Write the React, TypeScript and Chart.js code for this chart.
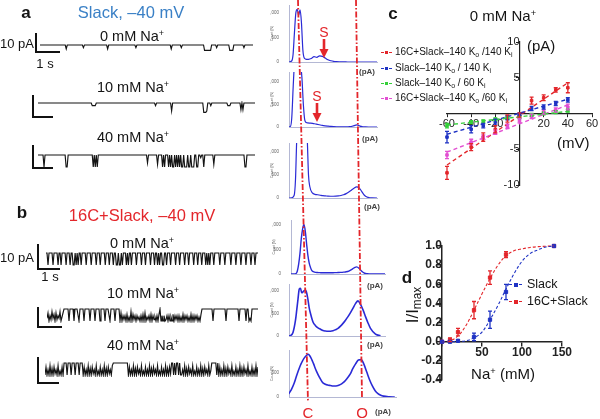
import React, { useEffect, useRef } from "react";
import { Chart, registerables } from "chart.js";

Chart.register(...registerables);

const FONT = "'Liberation Sans', Arial, Helvetica, sans-serif";

// ---------------- panel a / b : single-channel traces ----------------
// one character per sample, 0 = closed baseline, 9 = fully open level
const TRACE_SLACK_0 = [
  "0000000000", "0000000000", "0000003000", "0000000000", "0002000000",
  "0000000000", "0000000300", "0000000000", "0000000000", "0000020000",
  "0000000000", "0000000000", "0000000000", "3000000000", "2000000000",
  "0000000000", "0004444444", "0000020000", "0000000044", "4400000000",
  "0020000000", "00",
].join("");
const TRACE_SLACK_10 = [
  "0000000000", "0000000000", "0000000000", "0000000000", "0000000000",
  "0000222200", "0000000000", "0000000000", "0000000000", "0000000000",
  "0000000000", "0000000200", "0000000000", "0006000000", "0000000000",
  "0000000000", "0000077760", "0020000000", "0000000002", "2200000000",
  "0050500000", "0000000",
].join("");
const TRACE_SLACK_40 = [
  "0000009000", "0000000000", "0000000099", "0000000000", "0000000000",
  "0000090909", "0000000000", "0000000000", "0000000000", "0000000000",
  "0000000006", "0000000007", "0000909000", "9090990909", "0909909990",
  "9909990099", "0020090000", "0000070000", "0000000000", "0000000000",
  "0000009900", "0000000",
].join("");
const TRACE_16C_0 = [
  "0090000900", "0090090000", "9000900990", "9090090000", "9000090000",
  "9000900009", "0009000900", "9909909000", "9090090000", "9000090009",
  "0000900090", "0909009900", "9000900009", "0009000090", "0090000900",
  "0900090009", "0909000900", "0009000090", "0000900009", "0000900009",
  "0000900090", "00",
].join("");
const TRACE_16C_10 = [
  "739582749385729630",
  "0000900009000090000900000900009000090000900009000090000",
  "9395859496929485958695949396859495869594",
  "0959598595969495859596949585969495958596940",
  "00000000009000000000000900000000000090000009009790000000",
].join("");
const TRACE_16C_40 = [
  "9395929493859296939",
  "0009000900090009000",
  "939592949385929693959294938592",
  "000000000000000",
  "9395929493859296939592949385929693959294938",
  "0090900909",
  "959294938592969395929493859296",
  "0000090",
  "9395929493859296939592949385929693959293",
].join("");

// ---------------- histograms (pA -> counts) ----------------
const HIST_X = [-1.4, -1.2, -1.0, -0.8, -0.6, -0.5, -0.4, -0.3, -0.2, -0.1, 0, 0.1, 0.2, 0.3, 0.4, 0.5, 0.6, 0.8, 1.0, 1.2, 1.4, 1.6, 1.8, 2.0, 2.2, 2.4, 2.6, 2.8, 3.0, 3.2, 3.4, 3.6, 3.8, 4.0, 4.2, 4.4, 4.6, 4.8, 5.0, 5.2, 5.4, 5.8, 6.2];
const HIST_SLACK_0 = [0, 0, 0, 0, 20, 150, 600, 1000, 1070, 950, 1060, 800, 250, 80, 60, 55, 55, 70, 110, 95, 125, 115, 80, 45, 25, 12, 6, 3, 2, 1, 0, 0, 0, 0, 0, 0, 0, 0, 0, 0, 0, 0, 0];
const HIST_SLACK_10 = [0, 0, 0, 0, 10, 200, 900, 1500, 1700, 1600, 1500, 1400, 1100, 500, 150, 100, 90, 85, 75, 65, 50, 35, 25, 18, 12, 8, 6, 5, 5, 5, 6, 10, 30, 45, 20, 6, 2, 0, 0, 0, 0, 0, 0];
const HIST_SLACK_40 = [0, 0, 0, 5, 60, 400, 1300, 1600, 1800, 1900, 1900, 1800, 1700, 1500, 1300, 500, 250, 110, 80, 70, 60, 50, 45, 40, 38, 38, 40, 45, 55, 70, 95, 130, 170, 210, 240, 220, 140, 60, 20, 6, 2, 0, 0];
const HIST_16C_0 = [0, 0, 0, 0, 10, 60, 200, 420, 720, 920, 1010, 880, 620, 380, 220, 130, 70, 40, 30, 28, 25, 25, 25, 25, 26, 28, 30, 33, 38, 45, 60, 90, 125, 145, 110, 50, 15, 5, 2, 0, 0, 0, 0];
const HIST_16C_10 = [0, 0, 10, 80, 350, 580, 820, 1040, 1060, 960, 980, 1010, 1020, 950, 800, 620, 500, 310, 230, 180, 150, 120, 110, 105, 105, 115, 140, 170, 220, 280, 350, 430, 520, 620, 720, 780, 700, 580, 430, 290, 170, 40, 5];
const HIST_16C_40 = [60, 150, 280, 460, 620, 690, 750, 800, 840, 870, 890, 870, 820, 760, 690, 610, 540, 420, 320, 270, 250, 240, 230, 230, 245, 275, 320, 390, 470, 590, 690, 770, 780, 680, 520, 360, 230, 130, 70, 35, 18, 5, 0];
const HIST_TICKS_SHORT = [0, 2, 4];
const HIST_TICKS_LONG = [0, 2, 4, 6];
const COUNT_TICKS = [0, 500, 1000];

// ---------------- panel c : I-V ----------------
const IV_VOLTAGE = [-60, -40, -30, -20, -10, 0, 10, 20, 30, 40];
const IV_16C_140 = [-8.3, -4.7, -3.3, -2.2, -0.7, -0.2, 1.8, 2.2, 3.3, 3.6];
const IV_16C_140_ERR = [0.9, 0.5, 0.6, 0.5, 0.5, 0.3, 0.5, 0.4, 0.3, 0.7];
const IV_SLACK_140 = [-3.3, -2.2, -1.7, -1.2, -0.6, -0.1, 0.7, 0.9, 1.4, 1.9];
const IV_SLACK_140_ERR = [0.8, 0.5, 0.3, 0.4, 0.3, 0.2, 0.3, 0.3, 0.3, 0.3];
const IV_SLACK_60 = [-1.7, -1.2, -1.1, -0.8, -0.6, -0.5, -0.2, 0.0, 0.2, 0.4];
const IV_SLACK_60_ERR = [0.3, 0.2, 0.2, 0.2, 0.2, 0.2, 0.2, 0.2, 0.2, 0.2];
const IV_16C_60 = [-5.8, -4.0, -3.3, -2.6, -1.8, -1.0, -0.4, 0.2, 0.5, 0.9];
const IV_16C_60_ERR = [0.5, 0.4, 0.3, 0.3, 0.3, 0.3, 0.3, 0.3, 0.3, 0.4];
const IV_FIT_V = [-60, 40];
const IV_FIT_16C_140 = [-7.2, 4.3];
const IV_FIT_SLACK_140 = [-2.9, 2.0];
const IV_FIT_SLACK_60 = [-1.6, 0.3];
const IV_FIT_16C_60 = [-5.4, 1.2];

// ---------------- panel d : Na+ dependence ----------------
const NA_CONC = [0, 10, 20, 40, 60, 80, 140];
const NA_SLACK = [0, 0.0, 0.01, 0.05, 0.23, 0.52, 1.0];
const NA_SLACK_ERR = [0, 0.01, 0.01, 0.04, 0.09, 0.08, 0];
const NA_16C = [0, 0.02, 0.1, 0.33, 0.67, 0.91, 1.0];
const NA_16C_ERR = [0, 0.02, 0.04, 0.09, 0.07, 0.03, 0];
const NA_FIT_X = [0, 10, 20, 30, 40, 50, 60, 70, 80, 90, 100, 110, 120, 130, 140];
const NA_FIT_SLACK = [0, 0, 0.002, 0.01, 0.04, 0.1, 0.23, 0.38, 0.55, 0.71, 0.84, 0.92, 0.96, 0.99, 1.0];
const NA_FIT_16C = [0, 0.01, 0.06, 0.17, 0.33, 0.5, 0.66, 0.8, 0.9, 0.95, 0.97, 0.985, 0.993, 0.998, 1.0];

// ---------------- colours ----------------
const RED = "#e3262b";
const BLUE = "#1f33c4";
const GREEN = "#35d03a";
const MAGENTA = "#e24fd2";
const HIST_BLUE = "#2a2ad6";
const AXIS_GRAY = "#b4b8d4";
const TITLE_BLUE = "#3a80c6";

const fixSize = (size: number) => (scale: any) => {
  if (scale.isHorizontal()) scale.height = size;
  else scale.width = size;
  scale.paddingLeft = 0;
  scale.paddingRight = 0;
  scale.paddingTop = 0;
  scale.paddingBottom = 0;
};

const zeroPad = (scale: any) => {
  scale.paddingLeft = 0;
  scale.paddingRight = 0;
  scale.paddingTop = 0;
  scale.paddingBottom = 0;
};

const errorBarPlugin = {
  id: "errorBars",
  afterDatasetsDraw(chart: any) {
    const ctx = chart.ctx;
    chart.data.datasets.forEach((ds: any, i: number) => {
      if (!ds.errors) return;
      const meta = chart.getDatasetMeta(i);
      const yScale = chart.scales[meta.yAxisID];
      ctx.save();
      ctx.strokeStyle = ds.borderColor;
      ctx.lineWidth = 1.3;
      meta.data.forEach((pt: any, j: number) => {
        const e = ds.errors[j];
        if (!e) return;
        const v = ds.data[j].y;
        const y1 = yScale.getPixelForValue(v + e);
        const y2 = yScale.getPixelForValue(v - e);
        const x = pt.x;
        const c = ds.capHalf || 2;
        ctx.beginPath();
        ctx.moveTo(x, y1);
        ctx.lineTo(x, y2);
        ctx.moveTo(x - c, y1);
        ctx.lineTo(x + c, y1);
        ctx.moveTo(x - c, y2);
        ctx.lineTo(x + c, y2);
        ctx.stroke();
      });
      ctx.restore();
    });
  },
};

const baseOptions = (padding: any) => ({
  animation: false,
  responsive: false,
  events: [],
  layout: { padding, autoPadding: false },
  plugins: { legend: { display: false }, tooltip: { enabled: false }, title: { display: false } },
});

function traceConfig(s: string) {
  const levels = s.split("").map(Number);
  return {
    type: "line",
    data: {
      datasets: [
        {
          data: levels.map((v, i) => ({ x: i, y: -v })),
          borderColor: "#141414",
          borderWidth: 1.15,
          pointRadius: 0,
          tension: 0,
          fill: false,
        },
      ],
    },
    options: {
      ...baseOptions(0),
      scales: {
        x: { type: "linear", display: false, min: 0, max: levels.length - 1 },
        y: { type: "linear", display: false, min: -10.5, max: 1.5 },
      },
    },
  };
}

function histConfig(counts: number[], xMin: number, xMax: number, yMax: number, xTicks: number[], width: number) {
  const tickFont = { size: 4.5, family: FONT };
  return {
    type: "line",
    data: {
      datasets: [
        {
          data: HIST_X.map((x, i) => ({ x, y: counts[i] })),
          borderColor: HIST_BLUE,
          borderWidth: width,
          pointRadius: 0,
          cubicInterpolationMode: "monotone",
          clip: 0,
        },
      ],
    },
    options: {
      ...baseOptions({ top: 2, right: 2, left: 0, bottom: 0 }),
      scales: {
        x: {
          type: "linear",
          min: xMin,
          max: xMax,
          afterBuildTicks: (sc: any) => {
            sc.ticks = xTicks.map((v) => ({ value: v }));
          },
          ticks: { font: tickFont, color: "#666", padding: 1, maxRotation: 0, autoSkip: false },
          grid: { display: false },
          border: { color: AXIS_GRAY, width: 1 },
          afterFit: fixSize(8),
        },
        y: {
          type: "linear",
          min: 0,
          max: yMax,
          afterBuildTicks: (sc: any) => {
            sc.ticks = COUNT_TICKS.filter((v) => v <= yMax).map((v) => ({ value: v }));
          },
          ticks: { font: tickFont, color: "#666", padding: 2 },
          title: { display: true, text: "Count (N)", font: { size: 3.5, family: FONT }, color: "#666", padding: 0 },
          grid: { display: false },
          border: { color: AXIS_GRAY, width: 1 },
          afterFit: fixSize(19),
        },
      },
    },
  };
}

function ivConfig() {
  const fit = (ys: number[], color: string) => ({
    data: IV_FIT_V.map((x, i) => ({ x, y: ys[i] })),
    borderColor: color,
    borderDash: [4, 3],
    borderWidth: 1.4,
    pointRadius: 0,
    clip: false,
  });
  const pts = (ys: number[], errs: number[], color: string) => ({
    data: IV_VOLTAGE.map((x, i) => ({ x, y: ys[i] })),
    errors: errs,
    showLine: false,
    pointStyle: "rect",
    pointRadius: 1.8,
    backgroundColor: color,
    borderColor: color,
    borderWidth: 1,
    clip: false,
  });
  const tickFont = { size: 11, family: FONT };
  return {
    type: "line",
    data: {
      datasets: [
        fit(IV_FIT_SLACK_60, GREEN),
        fit(IV_FIT_16C_60, MAGENTA),
        fit(IV_FIT_SLACK_140, BLUE),
        fit(IV_FIT_16C_140, RED),
        pts(IV_SLACK_60, IV_SLACK_60_ERR, GREEN),
        pts(IV_16C_60, IV_16C_60_ERR, MAGENTA),
        pts(IV_SLACK_140, IV_SLACK_140_ERR, BLUE),
        pts(IV_16C_140, IV_16C_140_ERR, RED),
      ],
    },
    options: {
      ...baseOptions({ left: 22, right: 8, top: 12, bottom: 10 }),
      scales: {
        x: {
          type: "linear",
          min: -60,
          max: 60,
          position: { y: 0 },
          ticks: { stepSize: 20, font: tickFont, color: "#222", padding: 1, callback: (v: number) => (v === 0 ? "" : String(v)) },
          grid: { drawOnChartArea: false, drawTicks: true, tickLength: 3, color: "#222" },
          border: { color: "#222", width: 1.2 },
          afterFit: zeroPad,
        },
        y: {
          type: "linear",
          min: -10,
          max: 10,
          position: { x: 0 },
          ticks: { stepSize: 5, font: tickFont, color: "#222", padding: 1, callback: (v: number) => (v === 0 ? "" : String(v)) },
          grid: { drawOnChartArea: false, drawTicks: true, tickLength: 3, color: "#222" },
          border: { color: "#222", width: 1.2 },
          afterFit: zeroPad,
        },
      },
    },
    plugins: [errorBarPlugin],
  };
}

function naConfig() {
  const fit = (ys: number[], color: string) => ({
    data: NA_FIT_X.map((x, i) => ({ x, y: ys[i] })),
    borderColor: color,
    borderDash: [3, 2],
    borderWidth: 1.1,
    pointRadius: 0,
    tension: 0.35,
    clip: false,
  });
  const pts = (ys: number[], errs: number[], color: string) => ({
    data: NA_CONC.map((x, i) => ({ x, y: ys[i] })),
    errors: errs,
    showLine: false,
    pointStyle: "rect",
    pointRadius: 2.3,
    backgroundColor: color,
    borderColor: color,
    borderWidth: 1,
    clip: false,
  });
  const tickFont = { size: 12, family: FONT, weight: "bold" };
  return {
    type: "line",
    data: {
      datasets: [
        fit(NA_FIT_SLACK, BLUE),
        fit(NA_FIT_16C, RED),
        pts(NA_SLACK, NA_SLACK_ERR, BLUE),
        pts(NA_16C, NA_16C_ERR, RED),
      ],
    },
    options: {
      ...baseOptions({ left: 47, right: 38, top: 14, bottom: 12 }),
      scales: {
        x: {
          type: "linear",
          min: 0,
          max: 150,
          position: { y: 0 },
          ticks: { stepSize: 50, font: tickFont, color: "#222", padding: 0, callback: (v: number) => (v === 0 ? "" : String(v)) },
          grid: { drawOnChartArea: false, drawTicks: true, tickLength: 4, color: "#222", lineWidth: 1.4 },
          border: { color: "#222", width: 1.5 },
          afterFit: zeroPad,
        },
        y: {
          type: "linear",
          min: -0.4,
          max: 1.0,
          position: { x: 0 },
          ticks: { stepSize: 0.2, font: tickFont, color: "#222", padding: 1, callback: (v: number) => (Math.abs(v) < 1e-9 ? "0.0" : Number(v).toFixed(1)) },
          grid: { drawOnChartArea: false, drawTicks: true, tickLength: 4, color: "#222", lineWidth: 1.4 },
          border: { color: "#222", width: 1.5 },
          afterFit: zeroPad,
        },
      },
    },
    plugins: [errorBarPlugin],
  };
}

function ChartBox({ x, y, w, h, build }: { x: number; y: number; w: number; h: number; build: () => any }) {
  const ref = useRef<HTMLCanvasElement>(null);
  useEffect(() => {
    const chart = new Chart(ref.current as HTMLCanvasElement, build());
    return () => chart.destroy();
  }, []);
  return (
    <canvas
      ref={ref}
      width={w}
      height={h}
      style={{ position: "absolute", left: x, top: y, width: w, height: h }}
    />
  );
}

function Trace({ s, left, right, base }: { s: string; left: number; right: number; base: number }) {
  return <ChartBox x={left} y={base - 2} w={right - left} h={16} build={() => traceConfig(s)} />;
}

function Hist(props: {
  counts: number[]; L: number; R: number; T: number; B: number;
  xMin: number; xMax: number; yMax: number; ticks: number[]; lw: number;
}) {
  const { counts, L, R, T, B, xMin, xMax, yMax, ticks, lw } = props;
  const x = L - 19;
  const y = T - 2;
  return (
    <ChartBox x={x} y={y} w={R + 2 - x} h={B + 8 - y} build={() => histConfig(counts, xMin, xMax, yMax, ticks, lw)} />
  );
}

function Txt({ x, y, size, color = "#141414", bold = false, anchor = "middle", rotate = 0, children }: any) {
  const tx = anchor === "middle" ? "-50%" : anchor === "end" ? "-100%" : "0";
  return (
    <div
      style={{
        position: "absolute",
        left: x,
        top: y,
        transform: `translate(${tx},-50%)${rotate ? ` rotate(${rotate}deg)` : ""}`,
        fontSize: size,
        fontFamily: FONT,
        fontWeight: bold ? 700 : 400,
        color,
        whiteSpace: "nowrap",
        lineHeight: 1,
        zIndex: 5,
      }}
    >
      {children}
    </div>
  );
}

const Sup = ({ children }: any) => (
  <sup style={{ fontSize: "0.62em", verticalAlign: "0.5em", lineHeight: 0 }}>{children}</sup>
);
const Sub = ({ children }: any) => (
  <sub style={{ fontSize: "0.7em", verticalAlign: "-0.3em", lineHeight: 0 }}>{children}</sub>
);

function Bar({ x, y, w, h }: { x: number; y: number; w: number; h: number }) {
  return <div style={{ position: "absolute", left: x, top: y, width: w, height: h, background: "#111" }} />;
}

function ScaleBar({ x, top, bottom, right }: { x: number; top: number; bottom: number; right: number }) {
  return (
    <>
      <Bar x={x - 1} y={top} w={2} h={bottom - top + 1} />
      <Bar x={x - 1} y={bottom - 1} w={right - x + 1} h={2} />
    </>
  );
}

function LegendMark({ x, y, color, w = 11, dash = true, size = 3 }: any) {
  return (
    <>
      <div
        style={{
          position: "absolute",
          left: x,
          top: y,
          width: w,
          height: 0,
          borderTop: `1.3px ${dash ? "dashed" : "solid"} ${color}`,
          zIndex: 5,
        }}
      />
      <div
        style={{
          position: "absolute",
          left: x + w / 2 - size / 2,
          top: y - size / 2 + 0.5,
          width: size,
          height: size,
          background: color,
          zIndex: 5,
        }}
      />
    </>
  );
}

export default function App() {
  useEffect(() => {
    document.body.style.margin = "0";
  }, []);

  const na = (n: string) => (
    <>
      {n} mM Na<Sup>+</Sup>
    </>
  );

  return (
    <div style={{ position: "relative", width: 600, height: 419, overflow: "hidden", background: "#fff", fontFamily: FONT }}>
      {/* ---------- panel a ---------- */}
      <Txt x={26} y={12} size={17} bold>a</Txt>
      <Txt x={131} y={12} size={16.5} color={TITLE_BLUE}>Slack, –40 mV</Txt>
      <Txt x={132} y={36} size={14.5}>{na("0")}</Txt>
      <Txt x={34} y={43} size={13} anchor="end">10 pA</Txt>
      <Txt x={45} y={63} size={13}>1 s</Txt>
      <Txt x={133} y={87} size={14.5}>{na("10")}</Txt>
      <Txt x={133} y={137} size={14.5}>{na("40")}</Txt>
      <ScaleBar x={36} top={33} bottom={52} right={60} />
      <ScaleBar x={33} top={95} bottom={117} right={53} />
      <ScaleBar x={33} top={145} bottom={168} right={53} />
      <Trace s={TRACE_SLACK_0} left={40} right={253} base={45} />
      <Trace s={TRACE_SLACK_10} left={38} right={255} base={103} />
      <Trace s={TRACE_SLACK_40} left={38} right={255} base={155} />

      {/* ---------- panel b ---------- */}
      <Txt x={22} y={212} size={17} bold>b</Txt>
      <Txt x={142} y={215} size={16.5} color={RED}>16C+Slack, –40 mV</Txt>
      <Txt x={142} y={243} size={14.5}>{na("0")}</Txt>
      <Txt x={34} y={257} size={13} anchor="end">10 pA</Txt>
      <Txt x={50} y={276} size={13}>1 s</Txt>
      <Txt x={143} y={293} size={14.5}>{na("10")}</Txt>
      <Txt x={143} y={345} size={14.5}>{na("40")}</Txt>
      <ScaleBar x={38} top={244} bottom={269} right={60} />
      <ScaleBar x={38} top={307} bottom={327} right={62} />
      <ScaleBar x={38} top={357} bottom={383} right={59} />
      <Trace s={TRACE_16C_0} left={46} right={258} base={253} />
      <Trace s={TRACE_16C_10} left={47} right={258} base={309} />
      <Trace s={TRACE_16C_40} left={45} right={258} base={363} />

      {/* ---------- histograms ---------- */}
      <Hist counts={HIST_SLACK_0} L={289} R={377} T={5} B={62} xMin={-0.79} xMax={5.5} yMax={1160} ticks={HIST_TICKS_SHORT} lw={1.2} />
      <Hist counts={HIST_SLACK_10} L={289} R={377} T={72} B={127} xMin={-0.69} xMax={5.38} yMax={1220} ticks={HIST_TICKS_SHORT} lw={1.2} />
      <Hist counts={HIST_SLACK_40} L={289} R={377} T={143} B={198} xMin={-1.0} xMax={5.77} yMax={1195} ticks={HIST_TICKS_SHORT} lw={1.2} />
      <Hist counts={HIST_16C_0} L={291} R={385} T={220} B={274} xMin={-0.98} xMax={6.14} yMax={1100} ticks={HIST_TICKS_LONG} lw={1.4} />
      <Hist counts={HIST_16C_10} L={289} R={385} T={284} B={336} xMin={-1.12} xMax={6.56} yMax={1155} ticks={HIST_TICKS_LONG} lw={1.6} />
      <Hist counts={HIST_16C_40} L={289} R={396} T={350} B={397} xMin={-1.36} xMax={6.29} yMax={980} ticks={HIST_TICKS_LONG} lw={1.6} />
      <Txt x={367} y={72} size={8} bold color="#444">(pA)</Txt>
      <Txt x={370} y={139} size={8} bold color="#444">(pA)</Txt>
      <Txt x={372} y={207} size={8} bold color="#444">(pA)</Txt>
      <Txt x={375} y={286} size={8} bold color="#444">(pA)</Txt>
      <Txt x={375} y={345} size={8} bold color="#444">(pA)</Txt>
      <Txt x={383} y={412} size={8} bold color="#444">(pA)</Txt>
      <Txt x={324} y={32} size={14} color={RED}>S</Txt>
      <Txt x={317} y={96} size={14} color={RED}>S</Txt>
      <Txt x={308} y={412} size={15} color={RED}>C</Txt>
      <Txt x={362} y={412} size={15} color={RED}>O</Txt>
      <svg width={600} height={419} style={{ position: "absolute", left: 0, top: 0, zIndex: 4 }}>
        <line x1={298} y1={0} x2={308} y2={402} stroke={RED} strokeWidth={1.8} strokeDasharray="6 2 1.5 2" />
        <line x1={356} y1={0} x2={362} y2={398} stroke={RED} strokeWidth={1.8} strokeDasharray="6 2 1.5 2" />
        <line x1={324} y1={39} x2={324} y2={50} stroke={RED} strokeWidth={2.6} />
        <polygon points="319.5,49 328.5,49 324,58" fill={RED} />
        <line x1={317} y1={103} x2={317} y2={114} stroke={RED} strokeWidth={2.6} />
        <polygon points="312.5,113 321.5,113 317,122" fill={RED} />
      </svg>

      {/* ---------- panel c ---------- */}
      <Txt x={393} y={13} size={17} bold>c</Txt>
      <Txt x={503} y={15} size={15}>{na("0")}</Txt>
      <ChartBox x={425} y={30} w={175} h={165} build={ivConfig} />
      <Txt x={527} y={45} size={15} anchor="start">(pA)</Txt>
      <Txt x={557} y={142} size={15} anchor="start">(mV)</Txt>
      <LegendMark x={381} y={52} color={RED} />
      <Txt x={395} y={52} size={10} anchor="start">16C+Slack–140 K<Sub>o</Sub> /140 K<Sub>i</Sub></Txt>
      <LegendMark x={381} y={68} color={BLUE} />
      <Txt x={395} y={68} size={10} anchor="start">Slack–140 K<Sub>o</Sub> / 140 K<Sub>i</Sub></Txt>
      <LegendMark x={381} y={83} color={GREEN} />
      <Txt x={395} y={83} size={10} anchor="start">Slack–140 K<Sub>o</Sub> / 60 K<Sub>i</Sub></Txt>
      <LegendMark x={381} y={98} color={MAGENTA} />
      <Txt x={395} y={98} size={10} anchor="start">16C+Slack–140 K<Sub>o</Sub> /60 K<Sub>i</Sub></Txt>

      {/* ---------- panel d ---------- */}
      <Txt x={407} y={277} size={17} bold>d</Txt>
      <ChartBox x={395} y={232} w={205} h={160} build={naConfig} />
      <Txt x={412} y={305} size={17} rotate={-90}>
        I/I<Sub>max</Sub>
      </Txt>
      <Txt x={503} y={373} size={15}>
        Na<Sup>+</Sup> (mM)
      </Txt>
      <LegendMark x={509} y={284} color={BLUE} w={13} size={4} />
      <Txt x={527} y={284} size={12.5} anchor="start">Slack</Txt>
      <LegendMark x={509} y={301} color={RED} w={13} size={4} />
      <Txt x={527} y={301} size={12.5} anchor="start">16C+Slack</Txt>
    </div>
  );
}
